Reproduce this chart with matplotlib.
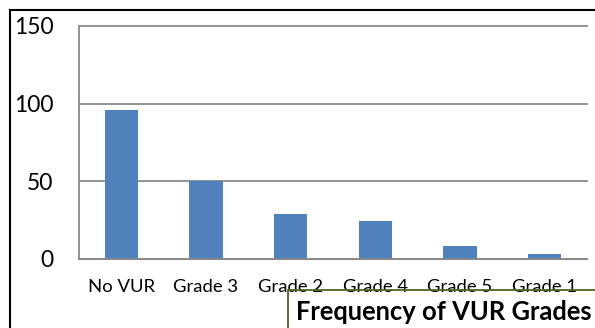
import matplotlib
matplotlib.use("Agg")
import matplotlib.pyplot as plt
from matplotlib.lines import Line2D
from matplotlib.patches import Rectangle

plt.rcParams['font.family'] = ['Lato', 'DejaVu Sans']

categories = ["No VUR", "Grade 3", "Grade 2", "Grade 4", "Grade 5", "Grade 1"]
counts = [96, 50, 29, 24, 8, 3]
y_ticks = [0, 50, 100, 150]
title_text = "Frequency of VUR Grades"

W, H = 595, 328
fig = plt.figure(figsize=(W / 100, H / 100), dpi=100)
fig.patch.set_facecolor("white")

def fx(px):
    return px / W

def fy(py):
    return 1 - py / H

# plot area
ax = fig.add_axes([fx(79), fy(258.5), fx(587) - fx(79), fy(26) - fy(258.5)])
ax.bar(range(len(categories)), counts, width=0.39, color="#4F81BD",
       edgecolor="none", zorder=3)
ax.set_xlim(-0.5, len(categories) - 0.5)
ax.set_ylim(0, 150)
ax.set_yticks(y_ticks)
ax.set_xticks(range(len(categories)))
ax.set_xticklabels(categories, fontsize=13.3)
ax.tick_params(axis="y", length=0, pad=18.5, labelsize=16.5)
ax.tick_params(axis="x", length=0, pad=14.5)

grid_color = "#898989"
ax.yaxis.grid(True, color=grid_color, linewidth=1.3, zorder=1)
for gl in ax.get_ygridlines():
    gl.set_clip_on(False)
for side in ("top", "right"):
    ax.spines[side].set_visible(False)
for side in ("left", "bottom"):
    ax.spines[side].set_color(grid_color)
    ax.spines[side].set_linewidth(1.3)
    ax.spines[side].set_zorder(4)

# outer chart frame (continues past the right and bottom edges)
fig.add_artist(Line2D([fx(9.5), fx(9.5)], [fy(10), fy(H + 5)], color="black",
                      linewidth=1.5))
fig.add_artist(Line2D([fx(9.5), fx(W + 5)], [fy(10), fy(10)], color="black",
                      linewidth=1.5))

# title box
fig.add_artist(Rectangle((fx(288), fy(H + 20)), fx(W + 20) - fx(288),
                         fy(290) - fy(H + 20), fill=False,
                         edgecolor="#4F6228", linewidth=1.3))
fig.text(fx(296), fy(312), title_text, fontsize=18.4, fontweight="bold",
         ha="left", va="center", color="black")

fig.savefig("out.png", dpi=100, facecolor="white")
